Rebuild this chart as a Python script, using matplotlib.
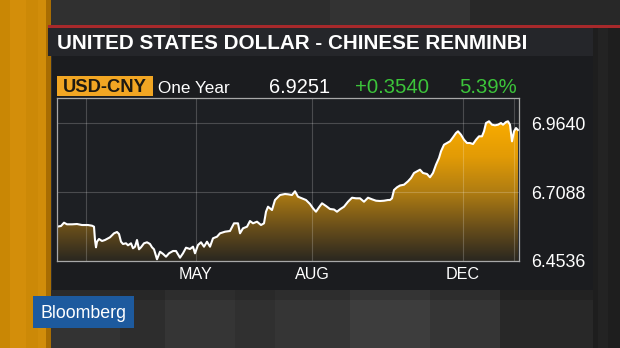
import numpy as np
import matplotlib
matplotlib.use("Agg")
import matplotlib.pyplot as plt
from matplotlib.colors import LinearSegmentedColormap
from matplotlib.patches import Rectangle

plt.rcParams['font.family'] = ['Liberation Sans', 'DejaVu Sans']

# ---------------- data ----------------
title = "UNITED STATES DOLLAR - CHINESE RENMINBI"
ticker = "USD-CNY"
period = "One Year"
last_price = "6.9251"
net_change = "+0.3540"
pct_change = "5.39%"
brand = "Bloomberg"

# days since start of the one-year window, USD-CNY rate
days = [0, 3.2, 5.6, 8, 12, 16, 20, 24.8, 28, 29.6, 30.4, 31.2, 32, 33.6, 36, 38.4,
        42.4, 45.6, 48, 49.6, 51.2, 52.8, 55.2, 56.8, 59.2, 60.8, 62.4, 64, 65.6,
        67.2, 69.6, 72, 74.4, 76, 77.6, 80, 82.4, 84.8, 87.2, 89.6, 92.8, 95.2,
        98.4, 100.8, 103.2, 106.4, 108.8, 110.4, 112.8, 115.2, 117.6, 120, 122.4,
        124.8, 128, 130.4, 134.4, 138.4, 141.6, 144.8, 146.4, 148.8, 152, 154.4,
        156.8, 160, 163.2, 165.6, 167.2, 168.8, 172, 174.4, 178.4, 182.4, 184.8,
        188, 190.4, 192.8, 196, 199.2, 202.4, 204.8, 207.2, 209.6, 212, 215.2,
        218.4, 221.6, 224, 226.4, 229.6, 232.8, 236, 239.2, 242.4, 245.6, 248.8,
        252, 255.2, 258.4, 261.6, 264.8, 266.4, 268, 269.6, 272, 274.4, 277.6,
        280.8, 283.2, 285.6, 288, 290.4, 292.8, 296, 298.4, 300.8, 303.2, 305.6,
        307.2, 309.6, 312, 314.4, 316.8, 319.2, 320.8, 323.2, 325.6, 328, 330.4,
        332.8, 335.2, 337.6, 340, 341.6, 343.2, 345.6, 348, 350.4, 352.8, 355.2,
        356.8, 359.2, 360.8, 362.4, 364, 365.6, 367.2, 368.8]
rates = [6.5805, 6.5831, 6.5953, 6.5893, 6.5893, 6.5904, 6.5867, 6.5867, 6.5842,
         6.5805, 6.5313, 6.5043, 6.5250, 6.5350, 6.5276, 6.5313, 6.5413, 6.5560,
         6.5609, 6.5535, 6.5250, 6.5165, 6.5191, 6.5117, 6.5191, 6.5006, 6.5065,
         6.5313, 6.4969, 6.5043, 6.5191, 6.5228, 6.5165, 6.5043, 6.4969, 6.4599,
         6.4880, 6.4800, 6.4695, 6.4821, 6.4906, 6.4906, 6.4658, 6.4821, 6.5028,
         6.4980, 6.5065, 6.4821, 6.5128, 6.5228, 6.5065, 6.5250, 6.5065, 6.5376,
         6.5435, 6.5560, 6.5620, 6.5646, 6.5930, 6.5930, 6.5560, 6.5745, 6.5805,
         6.6015, 6.5930, 6.5990, 6.5867, 6.5930, 6.6359, 6.6544, 6.6422, 6.6792,
         6.6977, 6.7014, 6.7003, 6.6977, 6.7114, 6.6914, 6.6855, 6.6792, 6.6644,
         6.6485, 6.6359, 6.6522, 6.6670, 6.6570, 6.6459, 6.6441, 6.6359, 6.6448,
         6.6544, 6.6729, 6.6877, 6.6855, 6.6855, 6.6729, 6.6877, 6.6818, 6.6766,
         6.6755, 6.6766, 6.6792, 6.6792, 6.6855, 6.7162, 6.7262, 6.7328, 6.7358,
         6.7484, 6.7606, 6.7791, 6.7854, 6.7913, 6.7791, 6.7754, 6.7632, 6.7791,
         6.8098, 6.8346, 6.8593, 6.8837, 6.8900, 6.8963, 6.9111, 6.9270, 6.9333,
         6.9207, 6.9022, 6.8900, 6.8900, 6.8863, 6.9022, 6.9148, 6.9148, 6.9333,
         6.9640, 6.9703, 6.9577, 6.9555, 6.9577, 6.9640, 6.9577, 6.9677, 6.9703,
         6.9577, 6.8963, 6.9333, 6.9455, 6.9381]

month_grid_days = [23.2, 111.2, 204.0, 324.8, 365.6]
month_labels = ["", "MAY", "AUG", "DEC", ""]
y_ticks = [6.4536, 6.7088, 6.9640]
y_labels = ["6.4536", "6.7088", "6.9640"]
x_span = 369.6
y_top = 7.0565

# ---------------- figure ----------------
W, H = 620, 348
fig = plt.figure(figsize=(W / 100, H / 100), dpi=100)

bg = fig.add_axes([0, 0, 1, 1])
bg.set_xlim(0, W)
bg.set_ylim(H, 0)
bg.axis('off')

# background texture
img = np.full((H, W, 3), 0.19)
top_cols = [(50, 180, 0.19), (180, 330, 0.18), (330, 470, 0.20), (470, 620, 0.16)]
for x0, x1, g in top_cols:
    img[0:26, x0:x1] = g
bot_cols = [(50, 120, 0.20), (120, 165, 0.18), (165, 235, 0.21), (235, 275, 0.19),
            (275, 350, 0.21), (350, 430, 0.24), (430, 500, 0.21), (500, 620, 0.16)]
for x0, x1, g in bot_cols:
    img[290:H, x0:x1] = g
img[290:300, 50:593] = img[290:300, 50:593] * 0.85
img[26:H, 593:W] = 0.12
img[26:H, 598:608] = 0.14
# orange strip on the left
strip = [(0, 10, (0.79, 0.53, 0.02)), (10, 26, (0.83, 0.56, 0.04)),
         (26, 38, (0.80, 0.54, 0.03)), (38, 46, (0.82, 0.555, 0.04)),
         (46, 51, (0.66, 0.43, 0.01))]
for x0, x1, c in strip:
    img[:, x0:x1] = c
bg.imshow(img, extent=[0, W, H, 0], aspect='auto', interpolation='nearest', zorder=0)

# red line, title bar, panel
bg.add_patch(Rectangle((48, 25), W - 48, 2.5, color='#a8292b', lw=0, zorder=1))
bg.add_patch(Rectangle((48, 27.5), 545, 28.5, color='#25262a', lw=0, zorder=1))
bg.add_patch(Rectangle((52, 56), 541, 234, color='#1b1c1f', lw=0, zorder=1))

bg.text(57, 49, title, color='white', fontsize=14.9, fontweight='bold',
        ha='left', va='baseline', zorder=3)

# header row
bg.add_patch(Rectangle((57, 76), 96, 20, color='#f2a623', lw=0, zorder=2))
bg.text(105, 92, ticker, color='#1e1a12', fontsize=13.2, fontweight='bold',
        ha='center', va='baseline', zorder=3)
bg.text(158, 93, period, color='white', fontsize=12.3, ha='left', va='baseline', zorder=3)
bg.text(269, 93.3, last_price, color='white', fontsize=14.4, ha='left', va='baseline', zorder=3)
bg.text(392.5, 93.3, net_change, color='#3cc43a', fontsize=14.6, ha='center', va='baseline', zorder=3)
bg.text(517, 93.3, pct_change, color='#3cc43a', fontsize=14.6, ha='right', va='baseline', zorder=3)

# Bloomberg logo
bg.add_patch(Rectangle((33, 296), 101, 32, color='#1d5a9e', lw=0, zorder=2))
bg.text(83.5, 317.5, brand, color='white', fontsize=12.8, ha='center', va='baseline', zorder=3)

# ---------------- chart ----------------
def px_rect(x0, y0, x1, y1):
    return [x0 / W, 1 - y1 / H, (x1 - x0) / W, (y1 - y0) / H]

ax = fig.add_axes(px_rect(57, 98, 519, 261))
ax.set_facecolor('#1d1f23')

lo = y_ticks[0]
rng = y_top - lo
nodes = [(0.0, '#2a2720'), ((6.58 - lo) / rng, '#6a4f1a'), ((6.71 - lo) / rng, '#b07d12'),
         ((6.84 - lo) / rng, '#e29b06'), ((6.96 - lo) / rng, '#f7aa00'), (1.0, '#ffb300')]
cmap = LinearSegmentedColormap.from_list('gold', nodes)

poly = ax.fill_between(days, rates, lo, color='none', lw=0)
grad = np.linspace(0, 1, 256).reshape(-1, 1)
im = ax.imshow(grad, aspect='auto', cmap=cmap, origin='lower',
               extent=[0, x_span, lo, y_top], zorder=1, interpolation='bilinear')
im.set_clip_path(poly.get_paths()[0], transform=ax.transData)
ax.set_xlim(0, x_span)
ax.set_ylim(lo, y_top)

ax.plot(days, rates, color='white', lw=1.5, zorder=3, solid_joinstyle='round')

ax.set_xticks(month_grid_days)
ax.set_xticklabels(month_labels)
ax.set_yticks(y_ticks)
ax.set_yticklabels(y_labels)
ax.yaxis.tick_right()
ax.grid(True, color='white', alpha=0.2, lw=0.8, zorder=2)
ax.tick_params(axis='x', length=0, pad=4, labelsize=11.6, labelcolor='white')
ax.tick_params(axis='y', length=0, pad=9, labelsize=12.8, labelcolor='white')
for s in ax.spines.values():
    s.set_color('#a8a8a8')
    s.set_linewidth(0.9)
    s.set_zorder(4)

fig.savefig('out.png', dpi=100)
